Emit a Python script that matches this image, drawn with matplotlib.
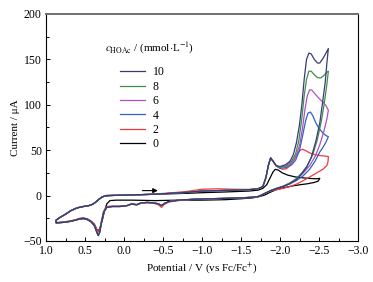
import numpy as np
import matplotlib
matplotlib.use("Agg")
import matplotlib.pyplot as plt

plt.rcParams['font.family'] = ['Liberation Serif', 'DejaVu Serif']
plt.rcParams['mathtext.fontset'] = 'stix'

# ---- data ----
labels = ['10', '8', '6', '4', '2', '0']
colors = ['#3a3a78', '#3f8f4c', '#b050c0', '#3060c0', '#f03a3a', '#000000']

# forward scan, shared by the acid curves (0.22 V -> -1.95 V)
fwd_E = [0.22, 0.1, 0.0, -0.2, -0.4, -0.6, -0.8, -1.0, -1.2, -1.4, -1.6, -1.72, -1.78, -1.82, -1.85, -1.88, -1.91, -1.95]
fwd_I = [0.0, 0.3, 0.5, 1.0, 1.5, 2.5, 3.5, 5.0, 5.5, 6.0, 6.5, 7.5, 10, 20, 33, 41.5, 38, 33]
fwd_red_I = [0.0, 0.3, 0.5, 1.0, 1.8, 3.0, 4.5, 7.0, 7.5, 7.0, 6.8, 7.5, 10, 20, 33, 41.5, 38, 33]

# forward, high-potential part, per curve
hi_E = {
    '10': [-2.0, -2.07, -2.13, -2.17, -2.21, -2.25, -2.28, -2.31, -2.34, -2.37, -2.40, -2.44, -2.48, -2.51, -2.55, -2.59, -2.62],
    '8': [-2.0, -2.08, -2.15, -2.20, -2.24, -2.28, -2.31, -2.34, -2.37, -2.40, -2.44, -2.48, -2.52, -2.56, -2.60, -2.62],
    '6': [-2.0, -2.08, -2.15, -2.20, -2.25, -2.29, -2.32, -2.35, -2.38, -2.41, -2.45, -2.50, -2.55, -2.59, -2.62],
    '4': [-2.0, -2.08, -2.15, -2.20, -2.25, -2.29, -2.33, -2.36, -2.39, -2.42, -2.46, -2.50, -2.55, -2.59, -2.62],
    '2': [-1.98, -2.03, -2.08, -2.13, -2.18, -2.22, -2.26, -2.29, -2.33, -2.38, -2.45, -2.52, -2.58, -2.62],
}
hi_I = {
    '10': [32, 34, 38, 45, 58, 78, 100, 128, 150, 157, 156, 150, 146, 146, 151, 157, 162],
    '8': [31, 33, 38, 46, 60, 85, 110, 128, 137, 137, 133, 130, 129.5, 132, 136, 137],
    '6': [31, 32, 36, 42, 55, 75, 95, 110, 116.5, 116, 112, 107, 103, 99, 94],
    '4': [30, 31, 34, 39, 50, 66, 83, 91, 92, 88, 80, 74, 69, 66, 65],
    '2': [31, 29, 29.5, 33, 40, 46, 50, 51, 49.5, 47, 45, 44, 43.5, 43],
}

# reverse scan back to -1.76 V, per curve
rev_E = {
    '10': [-2.62, -2.60, -2.58, -2.55, -2.51, -2.46, -2.40, -2.34, -2.27, -2.20, -2.12, -2.04, -1.96, -1.88, -1.82, -1.76],
    '8': [-2.62, -2.60, -2.57, -2.53, -2.48, -2.42, -2.35, -2.28, -2.20, -2.12, -2.04, -1.96, -1.88, -1.82, -1.76],
    '6': [-2.62, -2.60, -2.56, -2.51, -2.45, -2.38, -2.30, -2.22, -2.13, -2.04, -1.96, -1.88, -1.82, -1.76],
    '4': [-2.62, -2.59, -2.55, -2.51, -2.45, -2.38, -2.30, -2.22, -2.13, -2.04, -1.96, -1.88, -1.82, -1.76],
    '2': [-2.62, -2.615, -2.60, -2.55, -2.48, -2.40, -2.32, -2.22, -2.13, -2.04, -1.96, -1.88, -1.82, -1.76],
}
rev_I = {
    '10': [162, 145, 125, 105, 80, 60, 42, 31, 23, 17, 13, 10, 8, 5.5, 3, 0.5],
    '8': [137, 122, 103, 82, 62, 45, 33, 25, 18, 13.5, 10, 8, 5.5, 3, 0.5],
    '6': [94, 84, 70, 56, 43, 33, 25, 19, 14, 10.5, 8, 5.5, 3, 0.5],
    '4': [65, 59, 53, 48, 38, 29, 22, 17, 13, 10, 8, 5.5, 3, 0.5],
    '2': [43, 37, 33, 29, 25.5, 21.5, 17.5, 13, 10, 8, 6.5, 5, 3, 0.5],
}

# reverse scan, low-potential part (-1.72 V -> 0.87 V)
low_E = [-1.72, -1.65, -1.5, -1.3, -1.1, -0.9, -0.7, -0.58, -0.52, -0.48, -0.44, -0.38, -0.3, -0.22, -0.16,
         -0.1, -0.04, 0.05, 0.15, 0.22, 0.26, 0.29, 0.31, 0.33, 0.35, 0.38, 0.42, 0.47, 0.52, 0.57, 0.62, 0.7, 0.78, 0.87]
low_I = [-1, -1.8, -2.5, -3, -3.5, -4, -5, -6.5, -8.5, -11, -9, -8, -7.5, -8, -10,
         -9, -11, -12, -12, -13, -18, -30, -40, -44, -40, -33, -29, -26, -25, -25.5, -27, -28.5, -29.5, -30]
low_red_I = [-1, -1.8, -2.5, -3, -3.5, -4, -5.5, -7, -9.5, -13, -10, -8.5, -8, -8.5, -10.5,
             -9.5, -11, -11.5, -11.5, -12, -17, -28, -37, -40, -37, -31, -28, -25.5, -24.5, -25, -26.5, -28, -29, -29.5]

# return from 0.87 V to the start
ret_E = [0.87, 0.82, 0.75, 0.68, 0.6, 0.52, 0.45, 0.4, 0.36, 0.32, 0.28, 0.24, 0.22]
ret_I = [-27, -24, -20.5, -16.5, -13.5, -12, -11, -9.5, -7, -4, -1.5, -0.3, 0.0]

# blank curve (0 mmol/L)
blank_E = [0.22, 0.0, -0.4, -0.8, -1.0, -1.3, -1.6, -1.72, -1.78, -1.83, -1.87, -1.91, -1.94, -1.98, -2.03, -2.1,
           -2.2, -2.3, -2.4, -2.47, -2.51, -2.49, -2.44, -2.35, -2.26, -2.15, -2.04, -1.95, -1.87, -1.8, -1.74,
           -1.65, -1.5, -1.3, -1.0, -0.7, -0.4, -0.1, 0.1, 0.18, 0.22, 0.25, 0.28, 0.31, 0.33, 0.35, 0.38, 0.42,
           0.47, 0.52, 0.57, 0.62, 0.7, 0.78, 0.87]
blank_I = [0.0, 0.5, 1.5, 2.5, 3.2, 4.0, 5.0, 6.0, 8.0, 12, 19, 26, 29, 28, 25, 22.5,
           20.5, 19.5, 18.8, 18.5, 19, 16, 14.5, 13, 12, 10.5, 8.5, 6.5, 3.5, 0.5, -1,
           -2.5, -3.5, -4.5, -5, -5, -5.5, -5, -5, -5.5, -9, -17, -28, -36, -39, -37, -32, -29,
           -26.5, -25.5, -26, -27, -28.5, -29.5, -30]

# ---- figure ----
fig = plt.figure(figsize=(3.73, 2.82), dpi=100)
ax = fig.add_axes([46 / 373, 1 - 241 / 282, 312 / 373, 227 / 282])

handles = {}
for lab, col in zip(labels[::-1], colors[::-1]):
    if lab == '0':
        E = blank_E + ret_E
        I = blank_I + ret_I
    else:
        f_I = fwd_red_I if lab == '2' else fwd_I
        l_I = low_red_I if lab == '2' else low_I
        E = fwd_E + hi_E[lab] + rev_E[lab] + low_E + ret_E
        I = f_I + hi_I[lab] + rev_I[lab] + l_I + ret_I
    h, = ax.plot(E, I, color=col, lw=0.9, label=lab)
    handles[lab] = h

ax.annotate('', xy=(-0.47, 5.5), xytext=(-0.2, 5.5),
            arrowprops=dict(arrowstyle='-|>', color='k', lw=0.8, mutation_scale=7))

ax.set_xlim(1.0, -3.0)
ax.set_ylim(-50, 200)
ax.set_xticks(np.arange(1.0, -3.01, -0.5))
ax.set_xticks(np.arange(1.0, -3.01, -0.25), minor=True)
ax.set_yticks(np.arange(-50, 201, 50))
ax.set_yticks(np.arange(-50, 201, 25), minor=True)
ax.tick_params(which='both', direction='in', labelsize=8.5, top=False, right=False)
ax.tick_params(which='major', length=3, width=0.7)
ax.tick_params(which='minor', length=2, width=0.7)
ax.tick_params(axis='x', pad=3)
ax.tick_params(axis='y', pad=3)

for s in ['left', 'bottom', 'right']:
    ax.spines[s].set_linewidth(0.8)
ax.spines['top'].set_color('#707070')
ax.spines['top'].set_linewidth(1.4)

ax.set_xlabel('Potential / V (vs Fc/Fc$^{+}$)', fontsize=8, labelpad=2)
ax.set_ylabel('Current / μA', fontsize=8, labelpad=2)

ax.text(0.19, 0.850, r'$c_{\mathrm{HOAc}}$ / (mmol$\cdot$L$^{-1}$)', transform=ax.transAxes,
        fontsize=8, ha='left', va='center')
ax.legend([handles[l] for l in labels], labels, loc='upper left', bbox_to_anchor=(0.237, 0.769),
          frameon=False, fontsize=8.5, handlelength=2.12, handletextpad=0.68, labelspacing=0.2,
          borderpad=0, borderaxespad=0)

fig.savefig('out.png', dpi=100)
